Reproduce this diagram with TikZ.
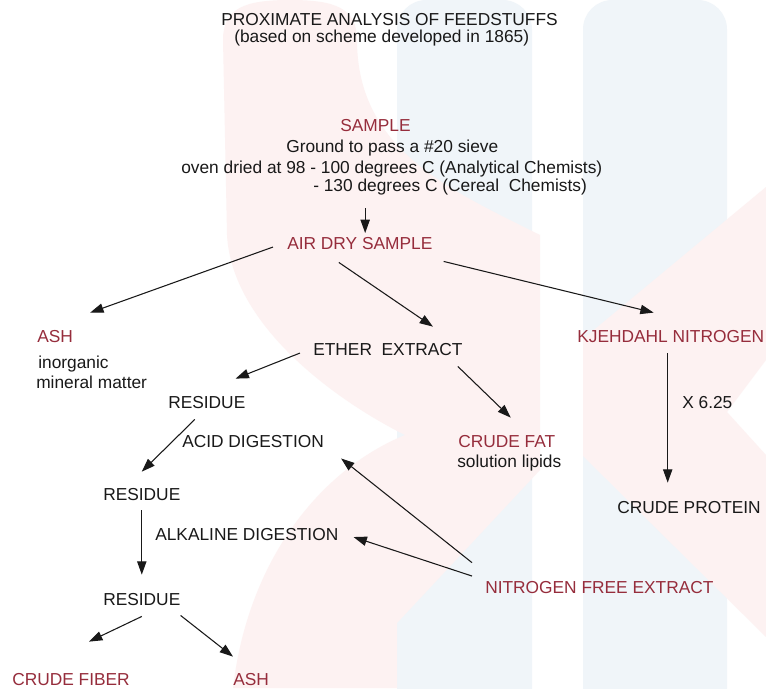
\documentclass[tikz,border=0pt]{standalone}
\usepackage{fontspec}
\setmainfont{Liberation Sans}
\usetikzlibrary{arrows.meta}
\definecolor{feedred}{RGB}{150,45,60}
\definecolor{inkgray}{RGB}{25,25,25}
\definecolor{wmpink}{RGB}{253,242,242}
\definecolor{wmblue}{RGB}{240,245,249}
\tikzset{
  txt/.style={inner sep=0pt, anchor=base west, text=inkgray, font=\fontsize{13}{16}\selectfont},
  redtxt/.style={txt, text=feedred},
  arr/.style={-{Triangle[length=10pt,width=7pt]}, line width=0.8pt, draw=inkgray}
}

\begin{document}
\begin{tikzpicture}[x=0.75pt,y=-0.75pt]
   \useasboundingbox (0,0) rectangle (766,688);
   \fill[white] (0,0) rectangle (766,688);

   % faded backdrop
   \begin{scope}
     \fill[wmblue, rounded corners=22pt] (397,720) -- (397,0) -- (532,0) -- (532,720) -- cycle;
     \fill[wmblue, rounded corners=22pt] (583,720) -- (583,0) -- (727,0) -- (727,720) -- cycle;
     \fill[wmpink] (233,688) .. controls (248,560) and (320,470) .. (405,435)
        .. controls (335,400) and (232,325) .. (227,235) -- (223,40)
        .. controls (223,8) and (245,0) .. (290,0) .. controls (335,0) and (357,8) .. (357,40)
        .. controls (357,150) and (450,190) .. (540,235) -- (540,470) -- (397,623) -- (397,688) -- cycle;
     \fill[wmpink] (583,339) -- (766,187) -- (766,360) -- (727,412) -- (766,455)
        -- (766,637) -- (583,456) -- cycle;
   \end{scope}

   % sample preparation
   \node[txt] (title) at (221,26) {PROXIMATE ANALYSIS OF FEEDSTUFFS};
   \node[txt] (subtitle) at (234,43) {(based on scheme developed in 1865)};
   \node[redtxt] (sample) at (340,132) {SAMPLE};
   \node[txt] (sieve) at (286,152) {Ground to pass a \#20 sieve};
   \node[txt] (oven) at (181,173) {oven dried at 98 - 100 degrees C (Analytical Chemists)};
   \node[txt] (cereal) at (313,191) {- 130 degrees C (Cereal\ \ Chemists)};
   \node[redtxt] (air) at (287,249) {AIR DRY SAMPLE};

   % fractions
   \node[redtxt] (ash) at (37,342) {ASH};
   \node[txt] (inorg) at (38,368) {inorganic};
   \node[txt] (mineral) at (36,388) {mineral matter};
   \node[txt] (ether) at (313,355) {ETHER\ \ EXTRACT};
   \node[redtxt] (kjn) at (577,342) {KJEHDAHL NITROGEN};
   \node[txt] (res1) at (168,408) {RESIDUE};
   \node[txt] (factor) at (682,408) {X 6.25};
   \node[txt] (acid) at (182,447) {ACID DIGESTION};
   \node[redtxt] (fat) at (458,447) {CRUDE FAT};
   \node[txt] (lipids) at (457,467) {solution lipids};
   \node[txt] (res2) at (103,500) {RESIDUE};
   \node[txt] (protein) at (617,513) {CRUDE PROTEIN};
   \node[txt] (alk) at (155,540) {ALKALINE DIGESTION};
   \node[redtxt] (nfe) at (485,593) {NITROGEN FREE EXTRACT};
   \node[txt] (res3) at (103,605) {RESIDUE};
   \node[redtxt] (fiber) at (12,685) {CRUDE FIBER};
   \node[redtxt] (ash2) at (233,685) {ASH};

   % arrows
   \draw[arr, shorten <=10pt, shorten >=2.7pt] ([xshift=4pt]air.north |- cereal.south) -- ([xshift=4pt]air.north);
   \draw[arr] ([shift={(-14,4)}]air.west) -- ([shift={(17,-17)}]ash.north east);
   \draw[arr] ([shift={(-21,13)}]air.south) -- ([shift={(45,-16)}]ether.north);
   \draw[arr] ([shift={(11,12)}]air.south east) -- ([shift={(-17,-17)}]kjn.north);
   \draw[arr] ([shift={(-13,4)}]ether.west) -- ([shift={(-10,-17)}]res1.north east);
   \draw[arr] ([shift={(-5,11)}]ether.south east) -- ([shift={(4,-17)}]fat.north);
   \draw[arr] ([shift={(-3,11)}]kjn.south) -- ([shift={(-3,-18)}]kjn.south |- protein.north);
   \draw[arr] ([shift={(-12,11)}]res1.south) -- ([shift={(0,-16)}]res2.north);
   \draw[arr] ([shift={(0,10)}]res2.south) -- ([shift={(0,-18)}]res3.north);
   \draw[arr] ([shift={(-13,-18)}]nfe.north west) -- ([shift={(17,11)}]acid.south east);
   \draw[arr] ([shift={(-13,-11)}]nfe.west) -- ([shift={(15,3)}]alk.east);
   \draw[arr] ([shift={(0,11)}]res3.south) -- ([shift={(18,-31)}]fiber.north);
   \draw[arr] ([shift={(0,10)}]res3.south east) -- ([shift={(0,-16)}]ash2.north west);
\end{tikzpicture}
\end{document}
